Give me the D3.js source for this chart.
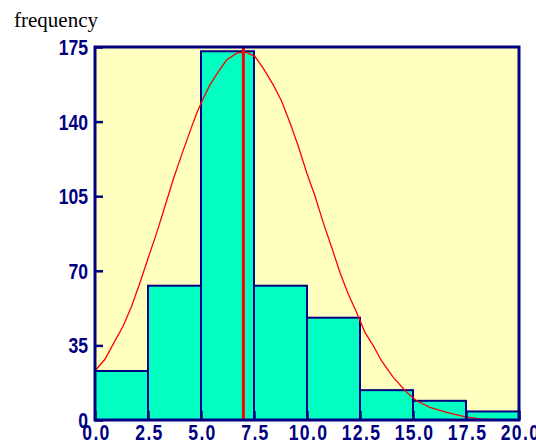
<!DOCTYPE html>
<html>
<head>
<meta charset="utf-8">
<script src="https://cdn.jsdelivr.net/npm/d3@7"></script>
<style>
  html, body { margin: 0; padding: 0; background: #ffffff; }
  svg { display: block; }
</style>
</head>
<body>
<svg id="chart" width="536" height="445"></svg>
<script>
// ---- data ----
const binStarts = [0, 2.5, 5, 7.5, 10, 12.5, 15, 17.5];
const binWidth = 2.5;
const frequencies = [23, 63, 173, 63, 48, 14, 9, 4];
const xTicks = [0, 2.5, 5, 7.5, 10, 12.5, 15, 17.5, 20];
const yTicks = [0, 35, 70, 105, 140, 175];
const meanValue = 7.0;
const curveX = [0, 0.47, 0.94, 1.33, 1.73, 2.12, 2.51, 2.91, 3.30, 3.69, 4.09, 4.48, 4.80, 5.11, 5.42, 5.82, 6.21, 6.68, 7.00, 7.16, 7.55, 7.94, 8.41, 8.81, 9.20, 9.59, 9.99, 10.38, 10.77, 11.17, 11.56, 11.95, 12.34, 12.74, 13.13, 13.52, 14.07, 14.70, 15.17, 15.80, 16.59, 17.53, 18.16, 19.10];
const curveY = [23.1, 28.5, 37.1, 44.1, 53.5, 64.4, 76.1, 87.8, 100.3, 112.8, 124.5, 135.4, 144.0, 151.0, 157.2, 163.4, 168.9, 172.1, 172.6, 172.5, 170.5, 165.0, 157.2, 149.4, 139.3, 128.4, 115.9, 105.0, 92.5, 80.8, 69.1, 59.0, 50.4, 41.0, 34.8, 27.7, 20.0, 13.0, 9.0, 5.9, 3.6, 1.3, 0.5, 0.1];
const yTitle = "frequency";

// ---- layout ----
const pLeft = 95, pRight = 519, pTop = 47, pBottom = 420;
const navy = "#000080";
const svg = d3.select("#chart");

const x = d3.scaleLinear().domain([0, 20]).range([pLeft, pRight]);
const y = d3.scaleLinear().domain([0, 175]).range([pBottom, pTop]);

// background
svg.append("rect")
  .attr("x", pLeft).attr("y", pTop)
  .attr("width", pRight - pLeft).attr("height", pBottom - pTop)
  .attr("fill", "#FFFFC0");

// bars
svg.append("g").selectAll("rect")
  .data(binStarts.map((s, i) => ({ s, v: frequencies[i] })))
  .join("rect")
  .attr("x", d => x(d.s))
  .attr("y", d => y(d.v))
  .attr("width", d => x(d.s + binWidth) - x(d.s))
  .attr("height", d => y(0) - y(d.v))
  .attr("fill", "#00FFC0")
  .attr("stroke", navy)
  .attr("stroke-width", 2);

// normal curve
const line = d3.line().x(d => x(d[0])).y(d => y(d[1]));
svg.append("path")
  .datum(curveX.map((v, i) => [v, curveY[i]]))
  .attr("d", line)
  .attr("fill", "none")
  .attr("stroke", "#FF0000")
  .attr("stroke-width", 1.3);

// mean line
svg.append("line")
  .attr("x1", x(meanValue)).attr("x2", x(meanValue))
  .attr("y1", pTop).attr("y2", pBottom)
  .attr("stroke", "#FF0000")
  .attr("stroke-width", 3);

const labelStyle = sel => sel
  .attr("fill", navy)
  .style("font-family", "'Liberation Sans', Arial, sans-serif")
  .style("font-weight", "bold")
  .style("font-size", "20px");

// y axis
const yAxis = svg.append("g")
  .attr("transform", `translate(${pLeft},0)`)
  .call(d3.axisLeft(y).tickValues(yTicks).tickSizeInner(-8).tickSizeOuter(0).tickFormat(d3.format("d")));
yAxis.select(".domain").remove();
yAxis.selectAll(".tick line").attr("stroke", navy).attr("stroke-width", 2.5);
yAxis.selectAll(".tick text")
  .attr("x", null).attr("dy", null)
  .attr("transform", "translate(-7,7.5) scale(0.88,1.07)")
  .attr("text-anchor", "end")
  .call(labelStyle);

// x axis
const xAxis = svg.append("g")
  .attr("transform", `translate(0,${pBottom})`)
  .call(d3.axisBottom(x).tickValues(xTicks).tickSizeInner(-9).tickSizeOuter(0).tickFormat(d3.format(".1f")));
xAxis.select(".domain").remove();
xAxis.selectAll(".tick line").attr("stroke", navy).attr("stroke-width", 2.5);
xAxis.selectAll(".tick text")
  .attr("y", null).attr("dy", null)
  .attr("transform", "translate(1,20) scale(0.88,1.07)")
  .attr("text-anchor", "middle")
  .style("letter-spacing", "1.5px")
  .call(labelStyle);

// frame
svg.append("rect")
  .attr("x", pLeft).attr("y", pTop)
  .attr("width", pRight - pLeft).attr("height", pBottom - pTop)
  .attr("fill", "none")
  .attr("stroke", navy)
  .attr("stroke-width", 3);

// title
svg.append("text")
  .attr("x", 14).attr("y", 27)
  .attr("fill", "#000")
  .style("font-family", "'Liberation Serif', 'Times New Roman', serif")
  .style("font-size", "21px")
  .text(yTitle);
</script>
</body>
</html>
